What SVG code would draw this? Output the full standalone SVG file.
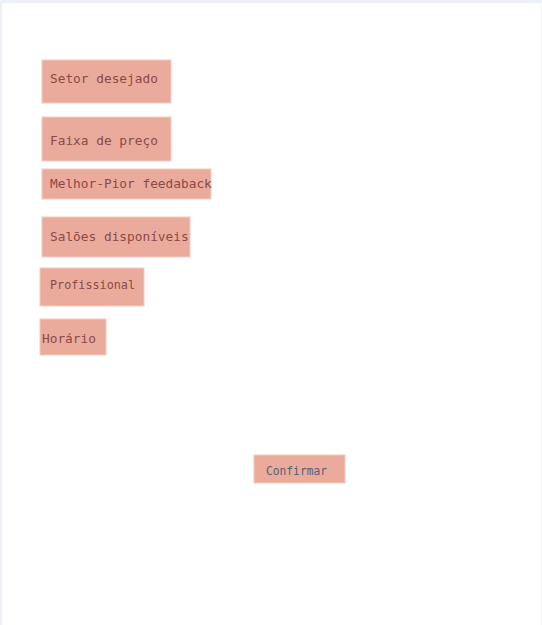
<svg xmlns="http://www.w3.org/2000/svg" width="542" height="625" viewBox="0 0 542 625">
<style>
.box{fill:#eaab9d;stroke:#f3cbc2;stroke-width:1}
.t{font-family:"DejaVu Sans Mono","Liberation Mono",monospace;font-size:12.8px;fill:#8a4a46}
.c{fill:#566070}
</style>
<rect x="0" y="0" width="542" height="625" fill="#ffffff"/>
<rect x="0" y="0" width="542" height="3" fill="#eef0f7"/>
<rect x="0" y="0" width="2" height="625" fill="#eef0f7"/>
<rect x="541" y="0" width="1" height="625" fill="#f3f4f9"/>
<g id="connectors"></g>
<g id="setor"><rect class="box" x="42" y="60" width="129" height="43"/><text class="t" x="50" y="83">Setor desejado</text></g>
<g id="faixa"><rect class="box" x="42" y="117" width="129" height="44"/><text class="t" x="50" y="145">Faixa de preço</text></g>
<g id="melhor"><rect class="box" x="42" y="169" width="169" height="30"/><text class="t" x="50" y="188">Melhor-Pior feedaback</text></g>
<g id="saloes"><rect class="box" x="42" y="217" width="148" height="40"/><text class="t" x="50" y="241">Salões disponíveis</text></g>
<g id="profissional"><rect class="box" x="40" y="268" width="104" height="38"/><text class="t" x="50" y="289" textLength="85" lengthAdjust="spacingAndGlyphs">Profissional</text></g>
<g id="horario"><rect class="box" x="40" y="319" width="66" height="36"/><text class="t" x="42" y="343">Horário</text></g>
<g id="confirmar"><rect class="box" x="254" y="455" width="91" height="28"/><text class="t c" x="266" y="475" textLength="61" lengthAdjust="spacingAndGlyphs">Confirmar</text></g>
</svg>
